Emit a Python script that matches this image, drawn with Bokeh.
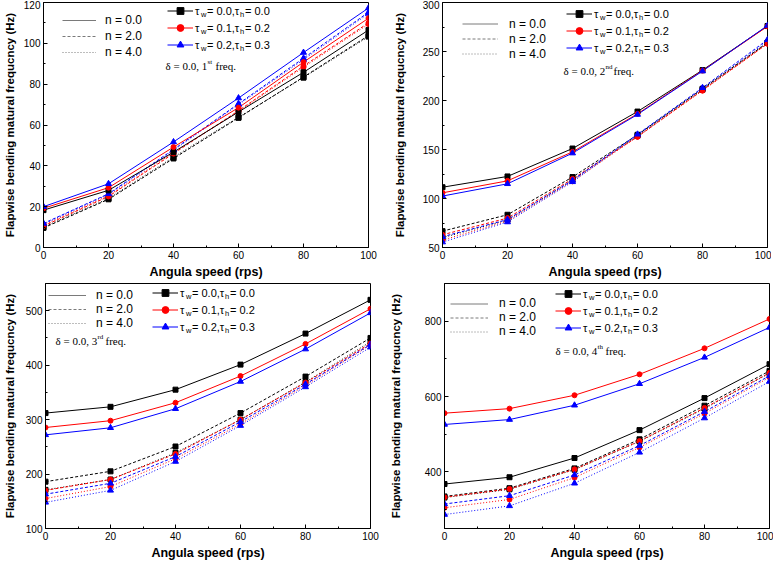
from bokeh.plotting import figure
from bokeh.layouts import column, row
from bokeh.models import Label, Legend, LegendItem, FixedTicker
from bokeh.embed import file_html
from bokeh.resources import INLINE

speed = [0, 20, 40, 60, 80, 100]
x_ticks = [0, 20, 40, 60, 80, 100]
x_minor = [10, 30, 50, 70, 90]

# 1st frequency (Hz); n0/n2/n4 = gradient index, a/b/c = taper cases
f1_n0_a = [18.3, 28.0, 46.7, 66.4, 85.8, 106.5]
f1_n0_b = [19.2, 29.3, 49.2, 68.5, 90.8, 112.3]
f1_n0_c = [20.0, 31.2, 51.7, 73.2, 95.5, 117.3]
f1_n2_a = [9.6, 23.6, 43.6, 63.5, 83.5, 103.8]
f1_n2_b = [10.5, 25.0, 46.0, 67.0, 88.9, 110.0]
f1_n2_c = [11.8, 26.3, 48.0, 70.4, 92.7, 115.2]
f1_n4_a = [10.0, 24.0, 44.2, 63.8, 83.2, 103.3]
f1_n4_b = [11.0, 25.4, 46.5, 66.6, 88.3, 109.4]
f1_n4_c = [11.5, 26.0, 47.6, 70.0, 92.0, 114.6]

# 2nd frequency
f2_n0_a = [111.5, 122.5, 151.0, 188.7, 231.0, 276.0]
f2_n0_b = [105.8, 118.0, 147.6, 186.4, 230.5, 275.6]
f2_n0_c = [102.5, 115.0, 146.3, 185.7, 230.0, 276.5]
f2_n2_a = [66.7, 83.4, 121.9, 165.0, 212.0, 259.0]
f2_n2_b = [63.0, 80.0, 120.0, 163.0, 210.5, 258.0]
f2_n2_c = [61.0, 78.5, 118.5, 165.5, 213.0, 262.0]
f2_n4_a = [60.0, 78.0, 119.0, 164.0, 211.0, 259.0]
f2_n4_b = [57.5, 77.0, 117.5, 163.0, 210.0, 258.0]
f2_n4_c = [55.5, 76.0, 117.0, 164.5, 212.0, 260.5]

# 3rd frequency
f3_n0_a = [312, 323.5, 355, 401, 458, 520]
f3_n0_b = [285.5, 298, 331, 380, 439, 503.6]
f3_n0_c = [272, 285, 320, 370, 429.5, 496]
f3_n2_a = [186, 205, 250.6, 312, 379, 450]
f3_n2_b = [170, 190, 237, 300, 368, 440]
f3_n2_c = [163, 183, 232, 296, 365, 438]
f3_n4_a = [171, 190, 239, 300, 369, 443]
f3_n4_b = [155, 177, 228, 292, 363, 437]
f3_n4_c = [148, 170, 223, 289, 360, 433]

# 4th frequency
f4_n0_a = [368, 386, 437, 511, 596, 686]
f4_n0_b = [556, 568, 603.5, 659, 728, 806]
f4_n0_c = [526, 539, 577, 634, 704, 783.5]
f4_n2_a = [335, 357, 409.5, 486.6, 575.8, 668]
f4_n2_b = [333, 355, 407, 482, 570, 663]
f4_n2_c = [315, 337, 392, 470, 560, 655]
f4_n4_a = [332, 354, 406, 481, 568, 662]
f4_n4_b = [305, 327, 385, 465, 555, 651]
f4_n4_c = [287, 310, 370, 452, 543, 640]

n_labels = ["n = 0.0", "n = 2.0", "n = 4.0"]
tau_w = ["0.0", "0.1", "0.2"]
tau_h = ["0.0", "0.2", "0.3"]

COLORS = ["black", "#ff0000", "#0000ff"]
MARKERS = ["square", "circle", "triangle"]
MSIZE = [5, 5, 6]
DASHES = ["solid", "3 2", "1 2"]
NAN = float("nan")

FW, FH = 325, 245
SANS = "Liberation Sans"
SERIF = "Liberation Serif"


def style_axis(ax):
    ax.major_tick_in = 4
    ax.major_tick_out = 0
    ax.minor_tick_in = 2
    ax.minor_tick_out = 0
    ax.axis_line_color = "black"
    ax.major_tick_line_color = "black"
    ax.minor_tick_line_color = "black"
    ax.major_label_text_font = SANS
    ax.major_label_text_color = "black"
    ax.major_label_text_font_size = "10px"
    ax.major_label_standoff = 3
    ax.axis_label_text_font = SANS
    ax.axis_label_text_font_style = "bold"
    ax.axis_label_text_color = "black"


def txt(p, x, y, s, size, font=SANS):
    p.add_layout(Label(x=x, y=FH - y, x_units="screen", y_units="screen", text=s,
                       text_font=font, text_font_size=f"{size}px", text_color="black",
                       text_baseline="middle", text_align="left"))


def panel(series, yr, yt, ym, cfg):
    p = figure(frame_width=FW, frame_height=FH, x_range=(0, 100), y_range=yr,
               output_backend="svg", toolbar_location=None,
               min_border_left=cfg["mbl"], min_border_right=cfg["mbr"],
               min_border_top=2, min_border_bottom=2)
    p.grid.visible = False
    p.outline_line_color = "black"
    p.background_fill_color = "white"
    p.xaxis.ticker = FixedTicker(ticks=x_ticks, minor_ticks=x_minor)
    p.yaxis.ticker = FixedTicker(ticks=yt, minor_ticks=ym)
    for ax in p.xaxis + p.yaxis:
        style_axis(ax)
    p.xaxis.axis_label = "Angula speed (rps)"
    p.yaxis.axis_label = "Flapwise bending matural frequcncy (Hz)"
    p.xaxis.axis_label_text_font_size = "12.5px"
    p.xaxis.axis_label_standoff = 3
    p.yaxis.axis_label_text_font_size = "11.5px"
    p.yaxis.axis_label_standoff = cfg["ylstand"]

    lines = {}
    scats = {}
    for ni in [2, 1, 0]:
        for ci in range(3):
            ys = series[ni][ci]
            lines[(ni, ci)] = p.line(speed, ys, line_color=COLORS[ci], line_width=1,
                                     line_dash=DASHES[ni])
    for ni in [2, 1, 0]:
        for ci in range(3):
            ys = series[ni][ci]
            scats[(ni, ci)] = p.scatter(speed, ys, marker=MARKERS[ci], size=MSIZE[ci],
                                        fill_color=COLORS[ci], line_color=COLORS[ci])

    # line-style legend (n): gray key lines
    nl, nt, nh, nw, ns = cfg["nleg"]
    keys = [p.line(x=[NAN], y=[NAN], line_color="#7a7a7a", line_width=1, line_dash=DASHES[i])
            for i in range(3)]
    leg_n = Legend(items=[LegendItem(label=n_labels[i], renderers=[keys[i]]) for i in range(3)],
                   location=(nl, FH - nt - 3 * nh), glyph_width=nw, glyph_height=nh,
                   label_height=nh, label_standoff=ns, spacing=0, padding=0, margin=0,
                   border_line_alpha=0, background_fill_alpha=0,
                   label_text_font=SANS, label_text_font_size="12px",
                   label_text_color="black", label_text_baseline="middle")
    p.add_layout(leg_n, "center")

    # marker legend (tau): label holds the leading "τ", subscripts added as labels
    tl, tt, th = cfg["tleg"]
    leg_t = Legend(items=[LegendItem(label="τ", renderers=[lines[(0, i)], scats[(0, i)]])
                          for i in range(3)],
                   location=(tl, FH - tt - 3 * th), glyph_width=26, glyph_height=th,
                   label_height=th, label_standoff=2, spacing=0,
                   padding=0, margin=0, border_line_alpha=0, background_fill_alpha=0,
                   label_text_font=SANS, label_text_font_size="11px",
                   label_text_color="black", label_text_baseline="middle")
    p.add_layout(leg_t, "center")
    for i in range(3):
        x0 = tl + 28
        yc = tt + th * i + th / 2
        txt(p, x0 + 5.5, yc + 3, "w", 7.5)
        txt(p, x0 + 11.5, yc, f"= {tau_w[i]},τ", 11)
        txt(p, x0 + 44.5, yc + 3, "h", 7.5)
        txt(p, x0 + 49.5, yc, f"= {tau_h[i]}", 11)

    dx, dy, num, sup = cfg["delta"]
    txt(p, dx, dy, f"δ = 0.0, {num}", 11, SERIF)
    txt(p, dx + 42, dy - 3.5, sup, 7, SERIF)
    txt(p, dx + 50, dy, "freq.", 11, SERIF)
    return p


p1 = panel([[f1_n0_a, f1_n0_b, f1_n0_c], [f1_n2_a, f1_n2_b, f1_n2_c], [f1_n4_a, f1_n4_b, f1_n4_c]],
           (0, 120), [0, 20, 40, 60, 80, 100, 120], [10, 30, 50, 70, 90, 110],
           dict(mbl=30, mbr=10, ylstand=5, nleg=(19, 10, 16, 34, 9), tleg=(124, 0, 17),
                delta=(122, 63, "1", "st")))
p2 = panel([[f2_n0_a, f2_n0_b, f2_n0_c], [f2_n2_a, f2_n2_b, f2_n2_c], [f2_n4_a, f2_n4_b, f2_n4_c]],
           (50, 300), [50, 100, 150, 200, 250, 300], [75, 125, 175, 225, 275],
           dict(mbl=64, mbr=4, ylstand=14, nleg=(20, 14, 15, 36, 11), tleg=(124, 3, 17),
                delta=(121, 68, "2", "nd")))
p3 = panel([[f3_n0_a, f3_n0_b, f3_n0_c], [f3_n2_a, f3_n2_b, f3_n2_c], [f3_n4_a, f3_n4_b, f3_n4_c]],
           (100, 550), [100, 200, 300, 400, 500], [150, 250, 350, 450, 550],
           dict(mbl=30, mbr=10, ylstand=7, nleg=(3, 5, 14, 38, 10), tleg=(107, 1, 17),
                delta=(10, 57, "3", "rd")))
p4 = panel([[f4_n0_a, f4_n0_b, f4_n0_c], [f4_n2_a, f4_n2_b, f4_n2_c], [f4_n4_a, f4_n4_b, f4_n4_c]],
           (250, 900), [400, 600, 800], [300, 500, 700, 900],
           dict(mbl=64, mbr=4, ylstand=20, nleg=(6, 16, 13, 38, 11), tleg=(111, 2, 17),
                delta=(111, 67, "4", "th")))

layout = column(row(p1, p2), row(p3, p4))
open("out.html", "w").write(file_html(layout, INLINE))
